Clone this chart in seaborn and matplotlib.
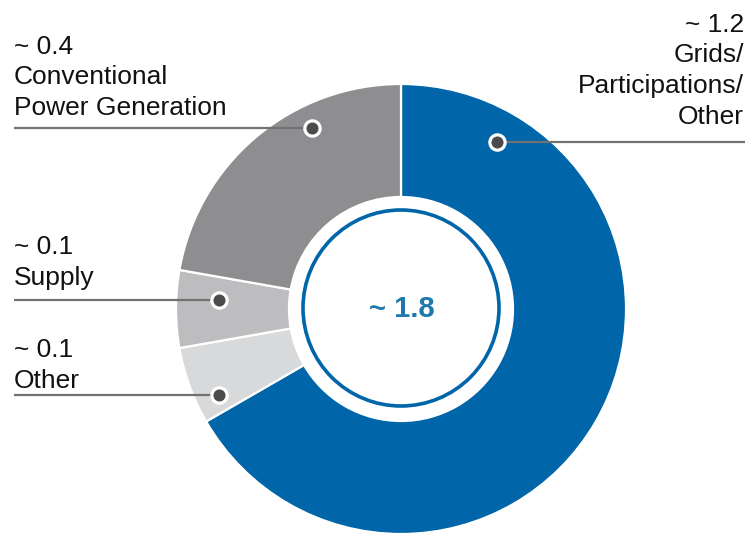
import matplotlib
matplotlib.use("Agg")
import matplotlib.pyplot as plt
import seaborn as sns
from matplotlib.patches import Circle

# ---- data ----
segments = ["Grids/Participations/Other", "Other", "Supply", "Conventional Power Generation"]
values = [1.2, 0.1, 0.1, 0.4]
value_labels = ["~ 1.2", "~ 0.1", "~ 0.1", "~ 0.4"]
name_lines = [["Grids/", "Participations/", "Other"], ["Other"], ["Supply"],
              ["Conventional", "Power Generation"]]
total_label = "~ 1.8"
colors = ["#0065A9", "#D8D9DB", "#BDBDBF", "#8E8E90"]

sns.set_theme(style="white")
plt.rcParams["font.family"] = ["Liberation Sans", "DejaVu Sans"]

W, H = 751, 535
fig = plt.figure(figsize=(W / 100, H / 100), dpi=100)
ax = fig.add_axes([0, 0, 1, 1])

cx, cy = 401, H - 309
R_out, R_in = 225, 112

ax.pie(values, colors=colors, startangle=90, counterclock=False,
       center=(cx, cy), radius=R_out,
       wedgeprops=dict(width=R_out - R_in, edgecolor="white", linewidth=1.6),
       frame=True)

ax.add_patch(Circle((cx, H - 308), 98, facecolor="white", edgecolor="#0065A9",
                    linewidth=2.6, zorder=5))
ax.text(cx + 1, H - 309, total_label, ha="center", va="center", fontsize=21,
        fontweight="bold", color="#1F78AE", zorder=6)

line_col = "#727272"
dot_col = "#4B4B4D"
fs = 19

layout = {
    0: dict(dot=(497, 142), xend=745, side="right", tx=744, base=32),
    1: dict(dot=(219, 395), xend=14, side="left", tx=14, base=357),
    2: dict(dot=(219, 300), xend=14, side="left", tx=14, base=254),
    3: dict(dot=(312, 128), xend=14, side="left", tx=14, base=54),
}
spacing = 30.5

for i in range(len(values)):
    L = layout[i]
    dx, dy = L["dot"]
    ax.plot([dx, L["xend"]], [H - dy, H - dy], color=line_col, lw=1.6,
            solid_capstyle="butt", zorder=7)
    ax.plot([dx], [H - dy], marker="o", markersize=11, markerfacecolor=dot_col,
            markeredgecolor="white", markeredgewidth=2.3, zorder=8)
    lines = [value_labels[i]] + name_lines[i]
    ha = "right" if L["side"] == "right" else "left"
    for k, t in enumerate(lines):
        ax.text(L["tx"], H - (L["base"] + k * spacing), t, ha=ha, va="baseline",
                fontsize=fs, color="#111111", zorder=9)

ax.set_xlim(0, W)
ax.set_ylim(0, H)
ax.set_aspect("equal")
ax.axis("off")
fig.savefig("out.png", dpi=100, facecolor="white")
